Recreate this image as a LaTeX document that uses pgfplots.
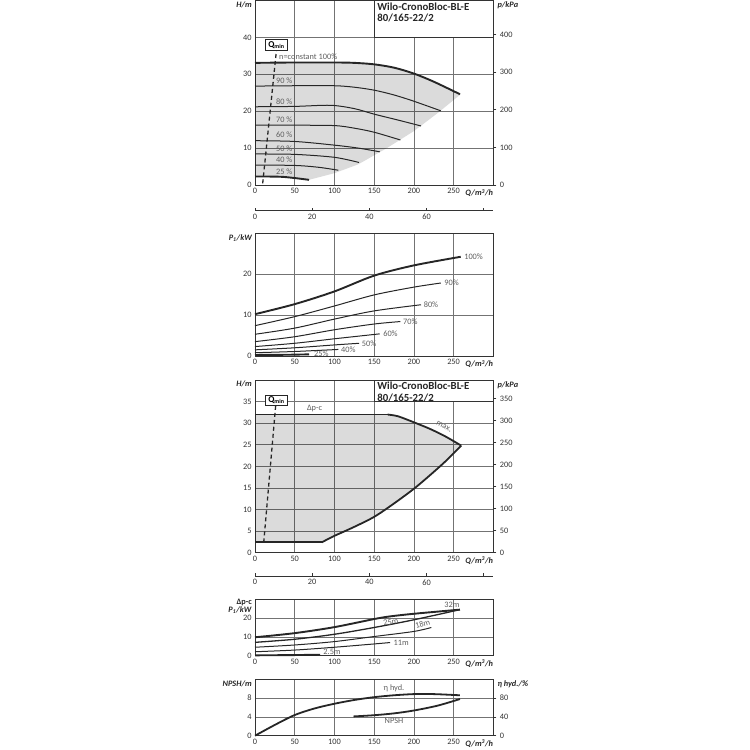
\documentclass[border=0pt]{standalone}
\usepackage{fontspec}
\setmainfont{Carlito}
\usepackage{pgfplots}
\pgfplotsset{compat=1.18}

\definecolor{crv}{HTML}{262626}
\definecolor{lbl}{HTML}{5E5E5E}

\pgfplotsset{
  pump/.style={
    scale only axis, width=238.3pt, clip=false,
    xmin=0, xmax=300, xtick={0,50,...,250},
    grid=major, major grid style={line width=0.6pt, black!55},
    major tick length=0pt,
    axis line style={line width=0.8pt, black!80},
    tick label style={font=\fontsize{8.3}{9}\selectfont, text=black!80},
    /pgf/number format/assume math mode=true,
  },
  rside/.style={
    scale only axis, width=238.3pt, xmin=0, xmax=300,
    axis x line=none, axis y line*=right,
    axis line style={line width=0.8pt, black!80},
    tick align=outside, major tick length=3pt,
    tick style={black!80, line width=0.6pt},
    tick label style={font=\fontsize{8.3}{9}\selectfont, text=black!80},
    /pgf/number format/assume math mode=true,
  },
  lps/.style={
    scale only axis, width=238.3pt, height=10pt,
    xmin=0, xmax=83.333, ymin=0, ymax=1,
    hide y axis, axis x line*=bottom,
    xtick={0,20,40,60,80}, xticklabels={0,20,40,60,{}},
    tick align=inside, major tick length=2.5pt,
    tick style={black!80, line width=0.6pt},
    axis line style={line width=0.8pt, black!80},
    tick label style={font=\fontsize{8.3}{9}\selectfont, text=black!80},
    /pgf/number format/assume math mode=true,
  },
}
\tikzset{
  cthin/.style={crv, line width=1pt, smooth},
  cthick/.style={crv, line width=1.9pt, smooth},
  area/.style={fill=black, fill opacity=0.14, draw=none},
  lb/.style={font=\fontsize{8.3}{9}\selectfont, text=lbl, inner sep=1pt},
  ax/.style={font=\bfseries\itshape\fontsize{8.3}{9}\selectfont, text=black!85, inner sep=0pt},
  ttl/.style={font=\bfseries\fontsize{10.8}{11.5}\selectfont, text=black!85, inner sep=0pt, align=left},
  qmin/.style={draw=black!85, line width=0.8pt, fill=white, font=\bfseries\fontsize{9}{9}\selectfont, inner xsep=2.5pt, inner ysep=1.8pt},
}

\begin{document}
\begin{tikzpicture}

% ---------- panel 1: H over Q, speed curves
\begin{axis}[pump, at={(255pt,565pt)}, anchor=south west, height=184.5pt,
  ymin=0, ymax=50, ytick={0,10,...,40}]
\addplot[area] coordinates {
  (0,2.3)(35,2.2)(68,1.4)(100,3.2)(130,5.6)(166,10)(200,14.6)(230,19.5)(259,24.6)
  (225,28.0)(200,30.2)(175,31.8)(150,32.7)(125,33.1)(100,33.2)(50,33.2)(0,33.1)};
\addplot[cthick] coordinates {(0,33.1)(50,33.2)(100,33.2)(125,33.1)(150,32.7)(175,31.8)(200,30.2)(225,28.0)(258,24.6)};
\addplot[cthin] coordinates {(0,26.8)(50,26.9)(100,26.9)(125,26.5)(150,25.7)(175,24.4)(200,22.7)(234,20.1)};
\addplot[cthin] coordinates {(0,21.2)(50,21.3)(95,21.6)(125,20.7)(150,19.2)(180,17.6)(209,16.0)};
\addplot[cthin] coordinates {(0,16.2)(50,16.2)(100,16.1)(125,15.4)(150,14.3)(183,12.2)};
\addplot[cthin] coordinates {(0,12.0)(50,11.8)(100,10.8)(130,10.0)(157,9.0)};
\addplot[cthin] coordinates {(0,8.4)(50,8.3)(100,7.5)(131,6.1)};
\addplot[cthin] coordinates {(0,5.4)(50,5.3)(80,4.8)(105,4.0)};
\addplot[cthick] coordinates {(0,2.3)(35,2.2)(68,1.4)};
\addplot[crv, line width=1.3pt, dash pattern=on 4pt off 3pt] coordinates {(9.7,0.45)(27,36.5)};
\node[lb, anchor=west] at (axis cs:29,34.8) {n=constant 100\%};
\node[lb, anchor=west] at (axis cs:25,28.2) {90 \%};
\node[lb, anchor=west] at (axis cs:25,22.6) {80 \%};
\node[lb, anchor=west] at (axis cs:25,17.8) {70 \%};
\node[lb, anchor=west] at (axis cs:25,13.5) {60 \%};
\node[lb, anchor=west] at (axis cs:25,9.9) {50 \%};
\node[lb, anchor=west] at (axis cs:25,6.8) {40 \%};
\node[lb, anchor=west] at (axis cs:25,3.6) {25 \%};
\node[qmin] at (axis cs:27,38) {Q\textsubscript{min}};
\draw[line width=0.8pt, black!80, fill=white] (axis cs:150,40) rectangle (axis cs:300,50);
\node[ttl, anchor=north west, xshift=3pt, yshift=-2pt] at (axis cs:150,50) {Wilo-CronoBloc-BL-E\\80/165-22/2};
\node[ax, anchor=north east, xshift=-3pt, yshift=-1pt] at (rel axis cs:0,1) {H/m};
\node[ax, anchor=north west, xshift=4pt, yshift=-1pt] at (rel axis cs:1,1) {p/kPa};
\node[ax, anchor=north east, yshift=-4pt] at (rel axis cs:1,0) {Q/m\textsuperscript{3}/h};
\end{axis}
\begin{axis}[rside, at={(255pt,565pt)}, anchor=south west, height=184.5pt,
  ymin=0, ymax=490.5, ytick={0,100,...,400}]
\end{axis}
\begin{axis}[lps, at={(255pt,539.3pt)}, anchor=south west]
\node[ax, anchor=north east, yshift=-4pt] at (rel axis cs:1,0) {Q/l/s};
\end{axis}

% ---------- panel 2: P1 over Q
\begin{axis}[pump, at={(255pt,394pt)}, anchor=south west, height=123pt,
  ymin=0, ymax=30, ytick={0,10,20}]
\addplot[cthick] coordinates {(0,10.2)(50,12.65)(100,15.75)(150,19.6)(200,22.1)(259,24.2)};
\addplot[cthin] coordinates {(0,7.4)(50,9.6)(100,12.2)(150,14.9)(200,16.8)(234,17.8)};
\addplot[cthin] coordinates {(0,5.3)(50,6.8)(100,9.0)(150,11.0)(209,12.5)};
\addplot[cthin] coordinates {(0,3.5)(50,4.7)(100,6.4)(150,7.8)(183,8.4)};
\addplot[cthin] coordinates {(0,2.3)(50,3.1)(100,4.2)(157,5.4)};
\addplot[cthin] coordinates {(0,1.5)(50,2.0)(100,2.7)(131,3.1)};
\addplot[cthin] coordinates {(0,0.8)(50,1.1)(105,1.6)};
\addplot[cthick] coordinates {(0,0.25)(40,0.3)(68,0.4)};
\node[lb, anchor=west] at (axis cs:262,24.3) {100\%};
\node[lb, anchor=west] at (axis cs:237,17.8) {90\%};
\node[lb, anchor=west] at (axis cs:211,12.5) {80\%};
\node[lb, anchor=west] at (axis cs:185,8.4) {70\%};
\node[lb, anchor=west] at (axis cs:160,5.4) {60\%};
\node[lb, anchor=west] at (axis cs:133,3.1) {50\%};
\node[lb, anchor=west] at (axis cs:107,1.6) {40\%};
\node[lb, anchor=west] at (axis cs:73,0.5) {25\%};
\node[ax, anchor=north east, xshift=-3pt, yshift=-1pt] at (rel axis cs:0,1) {P\textsubscript{1}/kW};
\node[ax, anchor=north east, yshift=-4pt] at (rel axis cs:1,0) {Q/m\textsuperscript{3}/h};
\end{axis}

% ---------- panel 3: H over Q, control range
\begin{axis}[pump, at={(255pt,197.3pt)}, anchor=south west, height=172.7pt,
  ymin=0, ymax=40, ytick={0,5,...,35}]
\addplot[area] coordinates {
  (0,32)(167,32)(180,31.6)(200,30.2)(220,28.7)(240,26.9)(259.6,24.8)
  (240,21.2)(220,17.9)(200,14.8)(175,11.4)(150,8.3)(124,5.9)(100,3.9)(84,2.4)(0,2.4)};
\addplot[crv, line width=1.8pt] coordinates {(0,32)(167,32)};
\addplot[crv, line width=1.8pt, smooth] coordinates {(167,32)(180,31.6)(200,30.2)(220,28.7)(240,26.9)(259.6,24.8)};
\addplot[crv, line width=1.8pt, smooth] coordinates {(259.6,24.8)(240,21.2)(220,17.9)(200,14.8)(175,11.4)(150,8.3)(124,5.9)(100,3.9)(84,2.4)};
\addplot[crv, line width=1.8pt] coordinates {(84,2.4)(0,2.4)};
\addplot[crv, line width=1.3pt, dash pattern=on 4pt off 3pt] coordinates {(11,2.4)(26,34)};
\node[lb] at (axis cs:75,33.5) {Δp-c};
\node[lb, rotate=-27] at (axis cs:238,29.2) {max.};
\node[qmin] at (axis cs:27,35.3) {Q\textsubscript{min}};
\draw[line width=0.8pt, black!80, fill=white] (axis cs:150,35) rectangle (axis cs:300,40);
\node[ttl, anchor=north west, xshift=3pt, yshift=-2pt] at (axis cs:150,40) {Wilo-CronoBloc-BL-E\\80/165-22/2};
\node[ax, anchor=north east, xshift=-3pt, yshift=-1pt] at (rel axis cs:0,1) {H/m};
\node[ax, anchor=north west, xshift=4pt, yshift=-1pt] at (rel axis cs:1,1) {p/kPa};
\node[ax, anchor=north east, yshift=-4pt] at (rel axis cs:1,0) {Q/m\textsuperscript{3}/h};
\end{axis}
\begin{axis}[rside, at={(255pt,197.3pt)}, anchor=south west, height=172.7pt,
  ymin=0, ymax=392.4, ytick={0,50,...,350}]
\end{axis}
\begin{axis}[lps, at={(255pt,174pt)}, anchor=south west]
\node[ax, anchor=north east, yshift=-4pt] at (rel axis cs:1,0) {Q/l/s};
\end{axis}

% ---------- panel 4: P1 over Q at constant head
\begin{axis}[pump, at={(255pt,94.3pt)}, anchor=south west, height=56.4pt,
  ymin=0, ymax=30, ytick={0,10,20}]
\addplot[cthick] coordinates {(0,9.8)(50,12.0)(100,15.2)(150,19.5)(170,20.9)(200,22.3)(258,24.5)};
\addplot[crv, line width=1.3pt, smooth] coordinates {(0,7.1)(50,8.75)(100,11.4)(150,15.0)(200,19.1)(258,24.5)};
\addplot[cthin] coordinates {(0,4.5)(50,5.7)(100,7.5)(150,10.2)(200,12.9)(222,15.0)};
\addplot[cthin] coordinates {(0,2.1)(50,3.0)(100,4.5)(150,6.25)(170,7.0)};
\addplot[cthick] coordinates {(0,0.2)(40,0.3)(82,0.5)};
\node[lb] at (axis cs:248,27.1) {32m};
\node[lb, rotate=10] at (axis cs:171,17.9) {25m};
\node[lb, rotate=15] at (axis cs:211,16.8) {18m};
\node[lb] at (axis cs:184,7.0) {11m};
\node[lb] at (axis cs:97,2.1) {2.5m};
\node[ax, anchor=north east, xshift=-3pt, yshift=0.5pt, align=right, font=\bfseries\fontsize{8.3}{8.3}\selectfont] at (rel axis cs:0,1) {Δp-c\\\textit{P\textsubscript{1}/kW}};
\node[ax, anchor=north east, yshift=-4pt] at (rel axis cs:1,0) {Q/m\textsuperscript{3}/h};
\end{axis}

% ---------- panel 5: NPSH and efficiency
\begin{axis}[pump, at={(255pt,14.3pt)}, anchor=south west, height=56.4pt,
  ymin=0, ymax=12, ytick={0,4,8}]
\addplot[crv, line width=1.8pt, smooth] coordinates {(0,0)(25,2.3)(50,4.4)(75,5.8)(100,6.8)(125,7.6)(150,8.2)(175,8.6)(200,8.85)(225,8.85)(258,8.6)};
\addplot[crv, line width=1.8pt, smooth] coordinates {(124,4.1)(150,4.36)(175,4.75)(200,5.36)(230,6.4)(258,7.8)};
\node[lb] at (axis cs:175,10.1) {η hyd.};
\node[lb] at (axis cs:175,3.1) {NPSH};
\node[ax, anchor=north east, xshift=-3pt, yshift=-1pt] at (rel axis cs:0,1) {NPSH/m};
\node[ax, anchor=north west, xshift=4pt, yshift=-1pt] at (rel axis cs:1,1) {η hyd./\%};
\node[ax, anchor=north east, yshift=-4pt] at (rel axis cs:1,0) {Q/m\textsuperscript{3}/h};
\end{axis}
\begin{axis}[rside, at={(255pt,14.3pt)}, anchor=south west, height=56.4pt,
  ymin=0, ymax=120, ytick={0,40,80}]
\end{axis}

\path (0,0) rectangle (750pt,750pt);
\end{tikzpicture}
\end{document}
